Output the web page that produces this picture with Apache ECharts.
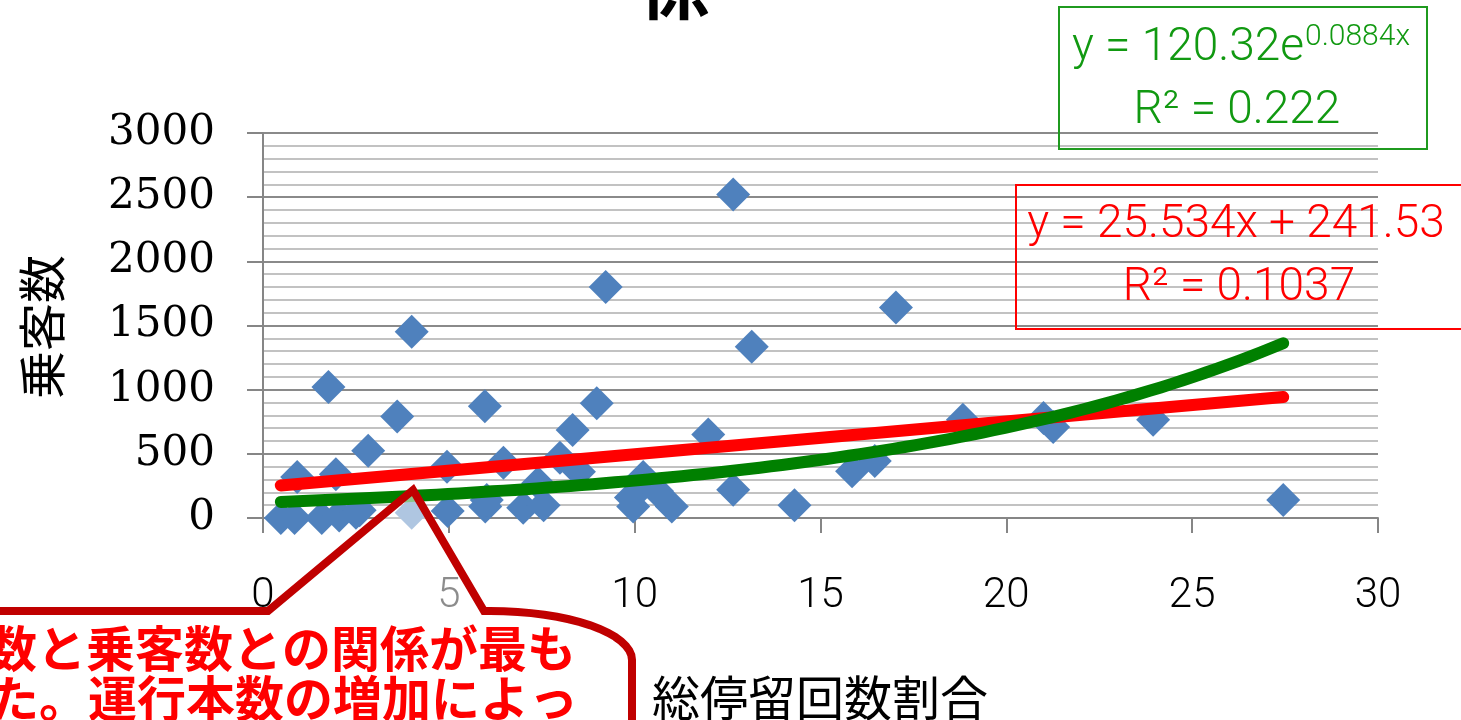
<!DOCTYPE html>
<html>
<head>
<meta charset="utf-8">
<script src="https://cdn.jsdelivr.net/npm/echarts/dist/echarts.min.js"></script>
<style>
  html, body { margin: 0; padding: 0; background: #ffffff; overflow: hidden; }
  #chart { width: 1461px; height: 720px; }
</style>
</head>
<body>
<div id="chart"></div>
<script>
// 総停留回数割合 (x) と 乗客数 (y) の散布図
const stopShare = [
  0.48, 0.85, 0.92, 1.58, 1.76, 1.96, 2.05, 2.5, 2.6, 2.83,
  3.61, 4.0, 4.0, 4.95, 4.97, 5.97, 5.98, 6.02, 6.47, 7.0,
  7.4, 7.55, 7.99, 8.33, 8.5, 8.98, 9.22, 9.9, 9.96, 10.23,
  10.6, 11.0, 11.98, 12.65, 12.65, 13.15, 14.3, 15.85, 16.46, 17.03,
  18.83, 21.0, 21.26, 23.95, 27.45
];
const passengers = [
  0, 0, 320, 0, 1020, 340, 20, 40, 60, 525,
  790, 1452, 40, 400, 55, 870, 90, 140, 430, 80,
  270, 100, 470, 685, 360, 895, 1800, 160, 90, 320,
  210, 90, 650, 220, 2520, 1335, 100, 365, 445, 1640,
  765, 780, 710, 765, 140
];

const xTickValues = [0, 5, 10, 15, 20, 25, 30];
const yTickValues = [0, 500, 1000, 1500, 2000, 2500, 3000];

// trendline coefficients as printed in the labels
const linearFit = [25.534, 241.53];   // slope, intercept
const expFit = [120.32, 0.0884];      // coefficient, rate
const linearLabel = ['y = 25.534x + 241.53', 'R² = 0.1037'];
const expLabel = ['y = 120.32e', '0.0884x', 'R² = 0.222'];

const chartTitle = '係';
const xTitle = '総停留回数割合';
const yTitle = '乗客数';
const calloutLines = ['数と乗客数との関係が最も', 'た。運行本数の増加によっ'];

// ---- derived series ----
const points = stopShare.map((x, i) => [x, passengers[i]]);
const xMin = Math.min(...stopShare);
const xMax = Math.max(...stopShare);
const linearLine = [xMin, xMax].map(x => [x, linearFit[0] * x + linearFit[1]]);
const expLine = [];
for (let i = 0; i <= 90; i++) {
  const x = xMin + (xMax - xMin) * i / 90;
  expLine.push([x, expFit[0] * Math.exp(expFit[1] * x)]);
}

// speech-bubble outline (rounded top-right corner)
const bubble = [[-20, 611], [268, 611], [413, 490], [484, 611]];
for (let k = 0; k <= 16; k++) {
  const t = (Math.PI / 2) * k / 16;
  bubble.push([490 + 142 * Math.sin(t), 660 - 49 * Math.cos(t)]);
}
bubble.push([632, 760], [-20, 760]);

const thinFont = 'Roboto, "Liberation Sans", sans-serif';
const cjkFont = '"Noto Sans CJK JP", sans-serif';

function txt(text, x, y, size, color, extra, z) {
  return {
    type: 'text', x: x, y: y, z: z || 50, silent: true,
    style: Object.assign({
      text: text, fill: color, fontSize: size, fontFamily: thinFont, fontWeight: 300,
      align: 'center', verticalAlign: 'middle', textAlign: 'center', textVerticalAlign: 'middle'
    }, extra || {})
  };
}

const chart = echarts.init(document.getElementById('chart'), null, { renderer: 'canvas' });
chart.setOption({
  animation: false,
  backgroundColor: '#ffffff',
  grid: { left: 263, right: 83, top: 133, bottom: 202, containLabel: false },
  xAxis: {
    type: 'value', min: xTickValues[0], max: xTickValues[xTickValues.length - 1], interval: 5,
    axisLine: { show: true, onZero: false, lineStyle: { color: '#868686', width: 2 } },
    axisTick: { show: true, inside: false, length: 15, lineStyle: { color: '#868686', width: 2 } },
    axisLabel: {
      margin: 57, fontSize: 42, fontFamily: thinFont, fontWeight: 300, color: '#000',
      showMinLabel: true, showMaxLabel: true,
      formatter: v => (xTickValues.indexOf(v) >= 0 ? String(v) : '')
    },
    splitLine: { show: false }
  },
  yAxis: {
    type: 'value', min: yTickValues[0], max: yTickValues[yTickValues.length - 1], interval: 500,
    axisLine: { show: true, lineStyle: { color: '#868686', width: 2 } },
    axisTick: { show: true, inside: false, length: 16, lineStyle: { color: '#868686', width: 2 } },
    axisLabel: {
      margin: 48, fontSize: 42, fontFamily: '"DejaVu Serif", serif', color: '#000',
      formatter: v => (yTickValues.indexOf(v) >= 0 ? String(v) : '')
    },
    splitLine: { show: true, lineStyle: { color: '#8a8a8a', width: 2 } },
    minorTick: { show: false, splitNumber: 5 },
    minorSplitLine: { show: true, lineStyle: { color: '#c2c2c2', width: 2 } }
  },
  series: [
    {
      type: 'scatter', data: points, symbol: 'diamond', symbolSize: 34,
      itemStyle: { color: '#4f81bd', opacity: 1 }, z: 2, silent: true
    },
    {
      type: 'line', data: linearLine, showSymbol: false, symbol: 'none', silent: true, z: 3,
      lineStyle: { color: '#ff0000', width: 12, cap: 'round' }
    },
    {
      type: 'line', data: expLine, showSymbol: false, symbol: 'none', silent: true, z: 4, smooth: false,
      lineStyle: { color: '#008000', width: 12, cap: 'round', join: 'round' }
    }
  ],
  graphic: [
    // chart title (top part lies above the page)
    txt(chartTitle, 675, -14, 72, '#000', { fontFamily: cjkFont, fontWeight: 'bold' }),
    // axis titles
    txt(xTitle, 820, 698, 48, '#000', { fontFamily: cjkFont, fontWeight: 'normal' }),
    Object.assign(txt(yTitle, 0, 0, 48, '#000', { fontFamily: cjkFont, fontWeight: 'normal' }),
      { x: 42, y: 327, rotation: Math.PI / 2 }),
    // exponential trendline label
    {
      type: 'rect', z: 50, silent: true,
      shape: { x: 1059, y: 7, width: 368, height: 142 },
      style: { fill: 'none', stroke: '#1f9a1f', lineWidth: 2 }
    },
    txt(expLabel[0], 1304, 48, 46, '#119911', { align: 'right', textAlign: 'right' }),
    txt(expLabel[1], 1305, 37, 30, '#119911', { align: 'left', textAlign: 'left' }),
    txt(expLabel[2], 1237, 111, 46, '#119911'),
    // linear trendline label
    {
      type: 'rect', z: 50, silent: true,
      shape: { x: 1016, y: 185, width: 452, height: 144 },
      style: { fill: 'none', stroke: '#ff0000', lineWidth: 2 }
    },
    txt(linearLabel[0], 1236, 225, 46, '#ff0000'),
    txt(linearLabel[1], 1239, 288, 46, '#ff0000'),
    // callout bubble
    {
      type: 'polygon', z: 60, silent: true,
      shape: { points: bubble },
      style: { fill: 'rgba(255,255,255,0.55)', stroke: '#c00000', lineWidth: 8, lineJoin: 'miter' }
    },
    txt(calloutLines[0], -12, 648, 49, '#ff0000',
      { fontFamily: cjkFont, fontWeight: 'bold', align: 'left', textAlign: 'left' }, 70),
    txt(calloutLines[1], -10, 698, 49, '#ff0000',
      { fontFamily: cjkFont, fontWeight: 'bold', align: 'left', textAlign: 'left' }, 70)
  ]
});
</script>
</body>
</html>
